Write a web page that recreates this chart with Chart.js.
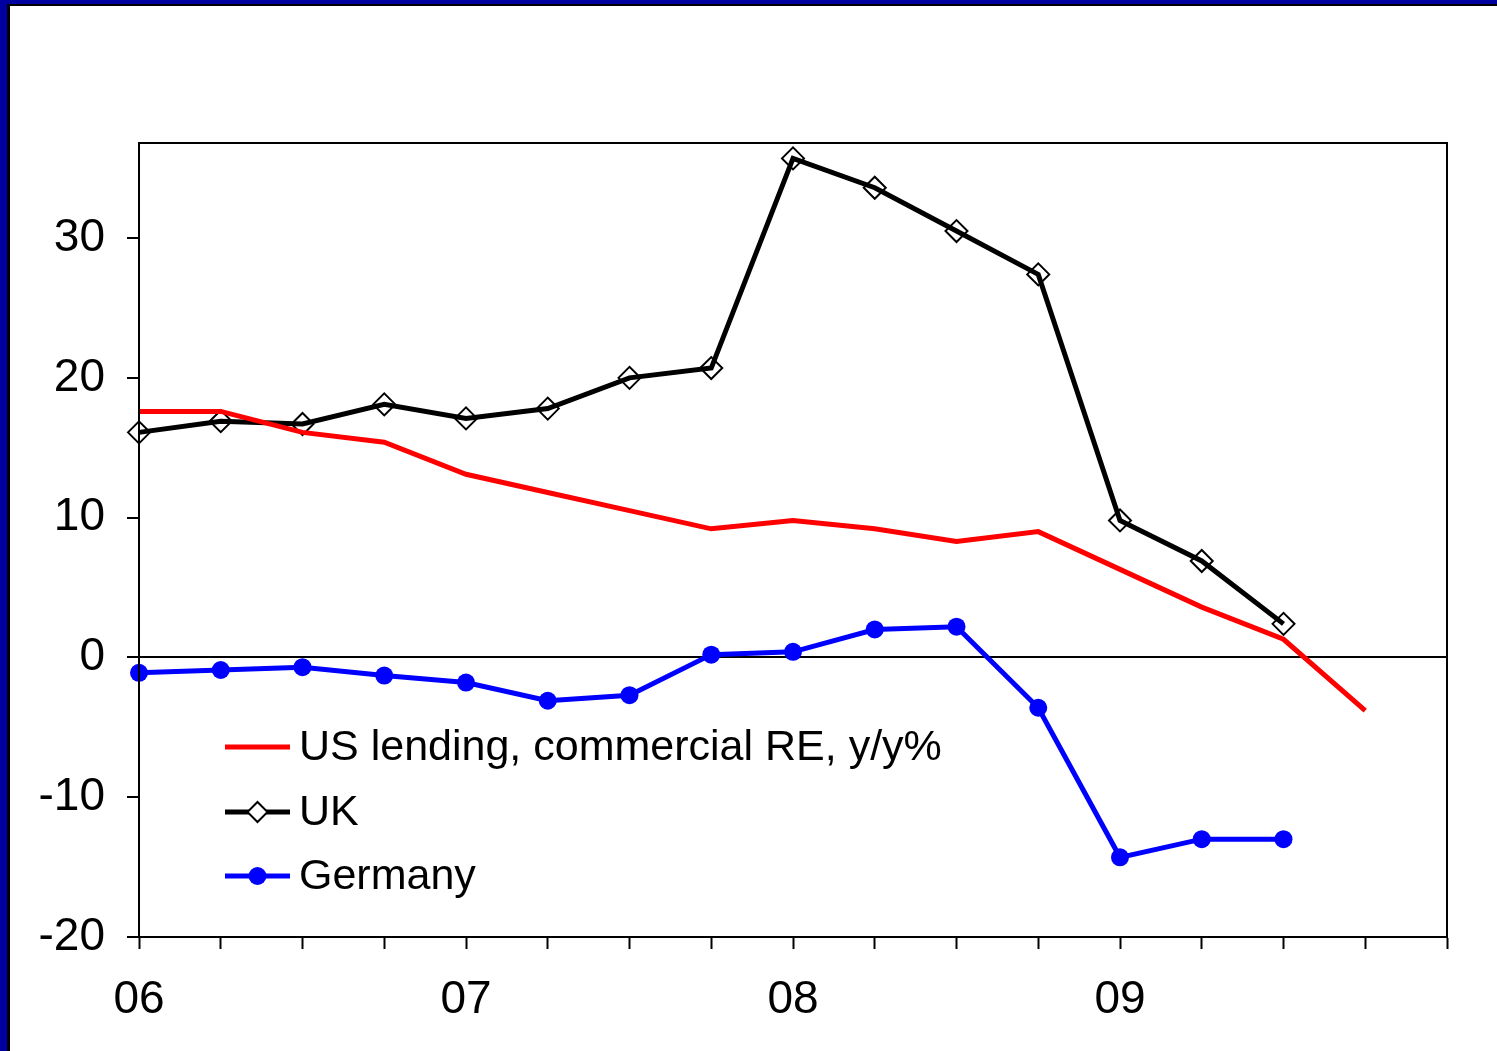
<!DOCTYPE html>
<html>
<head>
<meta charset="utf-8">
<script src="https://cdn.jsdelivr.net/npm/chart.js@4.4.1/dist/chart.umd.min.js"></script>
<style>
  html, body { margin: 0; padding: 0; background: #fff; }
  #frame { position: absolute; left: 0; top: 0; width: 1497px; height: 1051px; background: #0000a0; }
  #inner { position: absolute; left: 7px; top: 4px; right: 0; bottom: 0; background: #fff;
           border-left: 3px solid #000; border-top: 2px solid #000; }
  #c { position: absolute; left: 0; top: 0; }
</style>
</head>
<body>
<div id="frame"><div id="inner"></div></div>
<canvas id="c" width="1497" height="1051"></canvas>
<script>
// Quarterly categories, 2006 Q1 .. 2010 Q1
const categories = ['06Q1','06Q2','06Q3','06Q4','07Q1','07Q2','07Q3','07Q4',
                    '08Q1','08Q2','08Q3','08Q4','09Q1','09Q2','09Q3','09Q4','10Q1'];
const xTickLabels = ['06','','','','07','','','','08','','','','09','','','',''];
const yTickValues = [-20, -10, 0, 10, 20, 30];

const usLending = [17.6, 17.6, 16.1, 15.4, 13.1, 11.8, 10.5, 9.2, 9.8, 9.2, 8.3, 9.0, 6.3, 3.6, 1.3, -3.8, null];
const ukLending = [16.1, 16.9, 16.7, 18.1, 17.1, 17.8, 20.0, 20.7, 35.7, 33.6, 30.5, 27.4, 9.8, 6.9, 2.4, null, null];
const deLending = [-1.1, -0.9, -0.7, -1.3, -1.8, -3.1, -2.7, 0.2, 0.4, 2.0, 2.2, -3.6, -14.3, -13.0, -13.0, null, null];

const seriesLabels = ['US lending, commercial RE, y/y%', 'UK', 'Germany'];

const FONT = "'Liberation Sans', Arial, sans-serif";

const framePlugin = {
  id: 'framePlugin',
  afterDatasetsDraw(chart) {
    const {ctx, chartArea: a} = chart;
    ctx.save();
    ctx.strokeStyle = '#000';
    ctx.lineWidth = 2;
    ctx.strokeRect(a.left, a.top, a.right - a.left, a.bottom - a.top);
    ctx.restore();
  }
};

const legendPlugin = {
  id: 'insideLegend',
  afterDraw(chart) {
    const ctx = chart.ctx;
    const x0 = 225, x1 = 290, tx = 299;
    const ys = [747, 812, 876];
    ctx.save();
    chart.data.datasets.forEach((ds, i) => {
      const y = ys[i];
      ctx.strokeStyle = ds.borderColor;
      ctx.lineWidth = 5;
      ctx.lineCap = 'butt';
      ctx.beginPath(); ctx.moveTo(x0, y); ctx.lineTo(x1, y); ctx.stroke();
      const mx = (x0 + x1) / 2;
      if (ds.pointStyle === 'rectRot') {
        const r = 10;
        ctx.beginPath();
        ctx.moveTo(mx, y - r); ctx.lineTo(mx + r, y); ctx.lineTo(mx, y + r); ctx.lineTo(mx - r, y); ctx.closePath();
        ctx.fillStyle = '#fff'; ctx.fill();
        ctx.lineWidth = 2; ctx.strokeStyle = '#000'; ctx.stroke();
      } else if (ds.pointStyle === 'circle' && ds.pointRadius > 0) {
        ctx.beginPath(); ctx.arc(mx, y, 9, 0, Math.PI * 2);
        ctx.fillStyle = ds.pointBackgroundColor; ctx.fill();
      }
      ctx.fillStyle = '#000';
      ctx.font = '43px ' + FONT;
      ctx.textBaseline = 'middle';
      ctx.textAlign = 'left';
      ctx.fillText(ds.label, tx, y + 1);
    });
    ctx.restore();
  }
};

new Chart(document.getElementById('c'), {
  type: 'line',
  data: {
    labels: categories,
    datasets: [
      { label: seriesLabels[0], data: usLending, borderColor: '#ff0000', borderWidth: 5,
        pointRadius: 0, pointStyle: 'line', tension: 0, spanGaps: false },
      { label: seriesLabels[1], data: ukLending, borderColor: '#000000', borderWidth: 5,
        pointStyle: 'rectRot', pointRadius: 11, pointBorderWidth: 2,
        pointBackgroundColor: 'rgba(255,255,255,0)', pointBorderColor: '#000', tension: 0 },
      { label: seriesLabels[2], data: deLending, borderColor: '#0000ff', borderWidth: 5,
        pointStyle: 'circle', pointRadius: 9, pointBorderWidth: 0,
        pointBackgroundColor: '#0000ff', pointBorderColor: '#0000ff', tension: 0 }
    ]
  },
  options: {
    responsive: false,
    devicePixelRatio: 1,
    animation: false,
    layout: { padding: { left: 0, top: 143, right: 50, bottom: 0 } },
    plugins: { legend: { display: false }, tooltip: { enabled: false } },
    scales: {
      x: {
        type: 'category',
        offset: false,
        grid: { offset: false, drawOnChartArea: false, drawTicks: true, tickLength: 12,
                tickColor: '#000', tickWidth: 2, color: '#000' },
        border: { display: true, color: '#000', width: 2 },
        ticks: { autoSkip: false, maxRotation: 0, minRotation: 0, padding: 24,
                 color: '#000', font: { family: FONT, size: 46 },
                 callback: (v, i) => xTickLabels[i] },
        afterFit: (s) => { s.height = 1051 - 937; }
      },
      y: {
        min: -20, max: 36.8,
        grid: { drawTicks: true, tickLength: 12, tickColor: '#000', tickWidth: 2,
                color: (c) => (c.tick && c.tick.value === 0) ? '#000' : 'rgba(0,0,0,0)', lineWidth: 2 },
        border: { display: true, color: '#000', width: 2 },
        ticks: { stepSize: 10, includeBounds: false, padding: 22, color: '#000',
                 font: { family: FONT, size: 46 },
                 callback: (v) => yTickValues.includes(v) ? String(v) : '' },
        afterFit: (s) => { s.width = 139; }
      }
    }
  },
  plugins: [framePlugin, legendPlugin]
});
</script>
</body>
</html>
